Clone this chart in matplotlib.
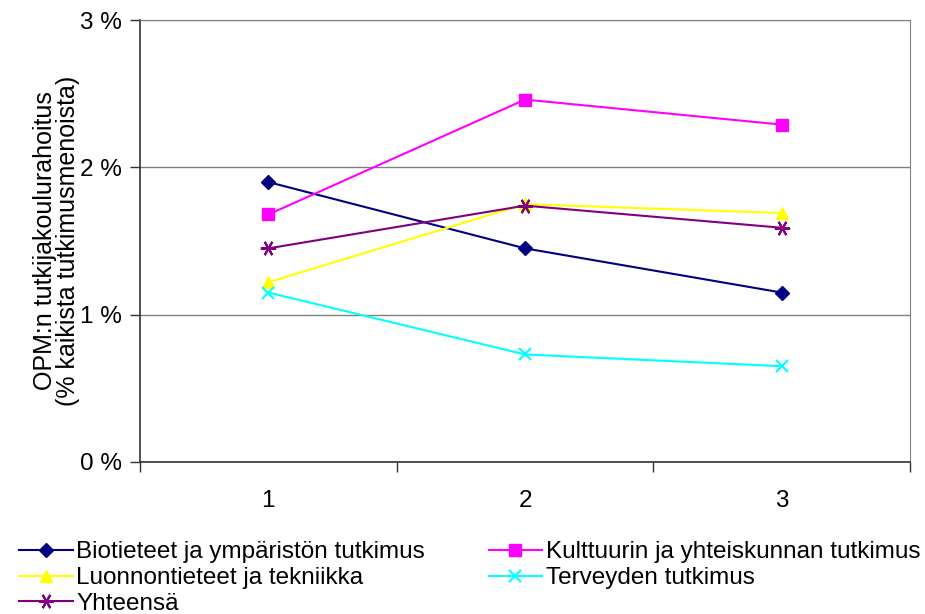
import numpy as np
import matplotlib.pyplot as plt

plt.rcParams['font.family'] = ['Liberation Sans', 'DejaVu Sans']

categories = [1, 2, 3]
series_names = [
    "Biotieteet ja ympäristön tutkimus",
    "Kulttuurin ja yhteiskunnan tutkimus",
    "Luonnontieteet ja tekniikka",
    "Terveyden tutkimus",
    "Yhteensä",
]
biotieteet = [1.90, 1.45, 1.15]
kulttuuri = [1.68, 2.46, 2.29]
luonnontieteet = [1.22, 1.75, 1.69]
terveys = [1.15, 0.73, 0.65]
yhteensa = [1.45, 1.74, 1.59]
y_ticks = [0, 1, 2, 3]
y_tick_labels = ["0 %", "1 %", "2 %", "3 %"]

values = [biotieteet, kulttuuri, luonnontieteet, terveys, yhteensa]
colors = ["#000080", "#FF00FF", "#FFFF00", "#00FFFF", "#800080"]
markers = ["D", "s", "^", "x", (6, 2, 90)]
msizes = [7, 8, 9, 9, 11]

fig = plt.figure(figsize=(9.25, 6.14), dpi=100)
ax = fig.add_axes([0.1514, 0.2476, 0.8324, 0.7198])

handles = []
for name, vals, c, m, ms in zip(series_names, values, colors, markers, msizes):
    (h,) = ax.plot(categories, vals, color=c, marker=m, markersize=ms,
                   markeredgewidth=1.5 if m in ("x",) or isinstance(m, tuple) else 1,
                   linewidth=1.5, label=name)
    handles.append(h)

ax.set_xlim(0.5, 3.5)
ax.set_ylim(0, 3)
ax.set_yticks(y_ticks)
ax.set_yticklabels(y_tick_labels)
ax.set_xticks(categories)
ax.set_xticks([0.5, 1.5, 2.5, 3.5], minor=True)
ax.tick_params(axis="x", which="major", length=0, pad=20, labelsize=17.5)
ax.tick_params(axis="x", which="minor", length=7, width=1, direction="out", color="#333333")
ax.tick_params(axis="y", length=7, width=1, direction="out", color="#333333", labelsize=17.5, pad=6)
ax.grid(axis="y", color="#808080", linewidth=1)
ax.set_axisbelow(True)
for side in ("left", "bottom"):
    ax.spines[side].set_color("#333333")
    ax.spines[side].set_linewidth(1.2)
ax.spines["right"].set_color("#808080")
ax.spines["top"].set_color("#808080")

ax.set_ylabel("OPM:n tutkijakoulurahoitus\n(% kaikista tutkimusmenoista)",
              fontsize=18, labelpad=0, linespacing=0.95)

order = [0, 2, 4, 1, 3]
fig.legend([handles[i] for i in order], [series_names[i] for i in order],
           ncol=2, loc="lower left", bbox_to_anchor=(0.005, -0.025), frameon=False,
           fontsize=17.5, handlelength=2.2, handletextpad=0.15, columnspacing=2.62,
           labelspacing=0.15, borderaxespad=0.2)

fig.savefig("out.png", dpi=100)
